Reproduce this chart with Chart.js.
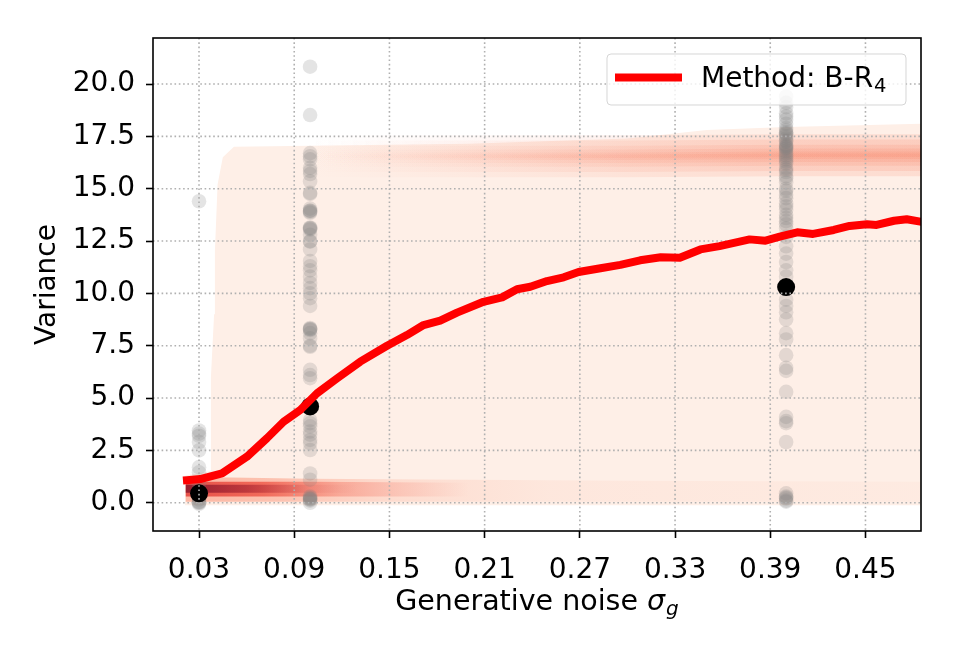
<!DOCTYPE html>
<html>
<head>
<meta charset="utf-8">
<script src="https://cdn.jsdelivr.net/npm/chart.js@4/dist/chart.umd.min.js"></script>
<style>
  html, body { margin: 0; padding: 0; background: #fff; }
  #wrap { width: 960px; height: 660px; }
</style>
</head>
<body>
<div id="wrap"><canvas id="c" width="960" height="660" style="width:960px;height:660px"></canvas></div>
<script>
// ---------------- data ----------------
const xTicks = [0.03, 0.09, 0.15, 0.21, 0.27, 0.33, 0.39, 0.45];
const yTicks = [0, 2.5, 5, 7.5, 10, 12.5, 15, 17.5, 20];

// regression curve (Method: B-R4)
const curveX = [0.0224, 0.0308, 0.0445, 0.0602, 0.0728, 0.0833, 0.0938, 0.1044, 0.117, 0.1316,
                0.1485, 0.161, 0.1715, 0.182, 0.1926, 0.2093, 0.221, 0.2304, 0.2388, 0.2493,
                0.2598, 0.2692, 0.283, 0.2955, 0.308, 0.321, 0.333, 0.346, 0.358, 0.377,
                0.387, 0.396, 0.407, 0.417, 0.430, 0.440, 0.451, 0.457, 0.468, 0.476, 0.4845];
const curveY = [1.08, 1.13, 1.40, 2.20, 3.08, 3.87, 4.43, 5.23, 5.94, 6.74,
                7.50, 8.01, 8.49, 8.70, 9.08, 9.60, 9.81, 10.20, 10.32, 10.59,
                10.77, 11.02, 11.20, 11.36, 11.58, 11.73, 11.70, 12.10, 12.26, 12.58,
                12.52, 12.71, 12.92, 12.84, 13.03, 13.22, 13.30, 13.27, 13.47, 13.54, 13.43];

// observed samples at three noise levels
const sampleSigmas = [0.03, 0.1, 0.4];
const samples003 = [14.4, 3.45, 3.3, 3.2, 2.9, 2.5, 1.7, 1.45, 0.9, 0.6, 0.3, 0.15, 0.05, 0.0, -0.05, 0.02];
const samples010 = [20.83, 18.52, 16.7, 16.55, 16.4, 16.0, 15.85, 15.7, 15.35, 14.8, 14.75, 14.05, 13.95, 13.9,
                    13.85, 13.95, 13.15, 13.1, 13.05, 13.12, 12.8, 12.47, 12.5, 12.1, 11.55, 11.3, 11.1, 10.8,
                    10.5, 10.25, 10.0, 9.77, 9.4, 8.35, 8.3, 8.25, 8.3, 8.1, 7.85, 7.45, 7.5, 6.35, 6.1, 5.95,
                    3.95, 3.8, 3.65, 3.4, 3.25, 3.0, 2.85, 2.52, 1.4, 1.1, 0.3, 0.25, 0.2, 0.15, 0.1, 0.0, 0.18];
const samples040 = [19.4, 19.1, 18.9, 18.6, 18.45, 18.3, 18.1, 17.9, 17.8, 17.7, 17.65, 17.6, 17.5, 17.4, 17.3,
                    17.25, 17.1, 17.05, 17.0, 16.95, 16.9, 16.8, 16.7, 16.6, 16.5, 16.4, 16.3, 16.2, 16.0,
                    15.9, 15.8, 15.6, 15.5, 15.3, 15.0, 14.9, 14.7, 14.55, 14.3, 14.15, 14.0, 13.75, 13.6,
                    13.45, 13.3, 13.1, 12.7, 12.25, 11.9, 11.5, 11.1, 10.8, 9.7, 9.4, 9.1, 8.75, 8.1, 7.8,
                    7.05, 6.45, 6.3, 5.3, 4.1, 3.9, 3.8, 2.9, 0.45, 0.3, 0.25, 0.2, 0.1, 0.05];
const meanX = [0.03, 0.1, 0.4];
const meanY = [0.45, 4.6, 10.3];

// density contour outlines
const envX   = [0.021, 0.0215, 0.037, 0.0375, 0.0395, 0.040, 0.0417, 0.045, 0.052, 0.10, 0.20, 0.30, 0.35, 0.40, 0.485];
const envTop = [-0.1, 1.3, 1.5, 6.0, 9.0, 12.0, 15.2, 16.5, 17.0, 17.05, 17.15, 17.4, 17.8, 17.95, 18.1];
const envBase = -0.12;

const upX      = [0.10, 0.20, 0.30, 0.40, 0.485];
const upCenter = [16.55, 16.55, 16.55, 16.6, 16.6];
const upHalfWidths = [1.0, 0.75, 0.5, 0.32, 0.18, 0.08];

const lowX    = [0.0215, 0.05, 0.1, 0.2, 0.3, 0.485];
const low1Lo  = [0.05, 0.05, 0.05, 0.05, 0.05, 0.05];
const low1Hi  = [1.2, 1.2, 1.15, 1.1, 1.05, 1.0];
const low2Lo  = [0.3, 0.3, 0.3, 0.3, 0.3, 0.3];
const low2Hi  = [1.0, 1.0, 1.0, 0.95, 0.95, 0.95];
const low3Lo  = [0.48, 0.48, 0.48, 0.48, 0.48, 0.48];
const low3Hi  = [0.86, 0.86, 0.86, 0.86, 0.86, 0.86];

const legendMain = 'Method: B-R';
const legendSub = '4';

// ---------------- helpers ----------------
const pts = (xs, ys) => xs.map((x, i) => ({x, y: ys[i]}));
function hGrad(stops) {
  return (c) => {
    const chart = c.chart;
    const xs = chart.scales.x;
    if (!chart.chartArea || !xs) return 'rgba(0,0,0,0)';
    const x0 = xs.getPixelForValue(stops[0][0]);
    const x1 = xs.getPixelForValue(stops[stops.length - 1][0]);
    const g = chart.ctx.createLinearGradient(x0, 0, x1, 0);
    stops.forEach(([v, col]) => {
      const t = Math.min(1, Math.max(0, (xs.getPixelForValue(v) - x0) / (x1 - x0)));
      g.addColorStop(t, col);
    });
    return g;
  };
}

const datasets = [];
function addBand(xs, lo, hi, color, order) {
  const loIdx = datasets.length;
  datasets.push({ data: pts(xs, lo), showLine: true, borderWidth: 0, pointRadius: 0, fill: false, order, backgroundColor: 'rgba(0,0,0,0)' });
  datasets.push({ data: pts(xs, hi), showLine: true, borderWidth: 0, pointRadius: 0, fill: loIdx, order, backgroundColor: color });
}

// red curve
datasets.push({ label: legendMain + legendSub, data: pts(curveX, curveY), showLine: true,
  borderColor: '#ff0000', borderWidth: 8, pointRadius: 0, fill: false, tension: 0,
  borderCapStyle: 'square', borderJoinStyle: 'round', order: 0 });
// means
datasets.push({ data: pts(meanX, meanY), showLine: false, pointRadius: 9, pointBackgroundColor: '#000',
  pointBorderWidth: 0, order: 1, gridAfter: true });
// gray samples
const grayData = [
  ...samples003.map(y => ({x: sampleSigmas[0], y})),
  ...samples010.map(y => ({x: sampleSigmas[1], y})),
  ...samples040.map(y => ({x: sampleSigmas[2], y}))
];
datasets.push({ data: grayData, showLine: false, pointRadius: 7.3, pointBackgroundColor: 'rgba(128,128,128,0.21)',
  pointBorderWidth: 0, order: 2 });

// contour layers (drawn under the points)
addBand(lowX, low3Lo, low3Hi, hGrad([[0.0215,'rgba(125,15,40,0.75)'],[0.06,'rgba(150,20,40,0.55)'],[0.1,'rgba(180,30,40,0.1)'],[0.13,'rgba(180,30,40,0)'],[0.485,'rgba(180,30,40,0)']]), 3);
addBand(lowX, low2Lo, low2Hi, hGrad([[0.0215,'rgba(225,55,50,0.8)'],[0.07,'rgba(235,60,45,0.65)'],[0.12,'rgba(240,80,60,0.3)'],[0.2,'rgba(240,80,60,0)'],[0.485,'rgba(240,80,60,0)']]), 4);
addBand(lowX, low1Lo, low1Hi, hGrad([[0.0215,'rgba(250,140,110,0.55)'],[0.08,'rgba(250,140,110,0.45)'],[0.15,'rgba(250,150,120,0.22)'],[0.25,'rgba(250,160,130,0.1)'],[0.485,'rgba(250,160,130,0.06)']]), 5);
const upGrad = hGrad([[0.10,'rgba(247,125,95,0)'],[0.2,'rgba(247,125,95,0.05)'],[0.3,'rgba(247,125,95,0.11)'],[0.4,'rgba(247,125,95,0.15)'],[0.485,'rgba(247,125,95,0.16)']]);
upHalfWidths.forEach((hw, k) => {
  addBand(upX, upCenter.map(c => c - hw), upCenter.map(c => c + hw), upGrad, 6 + k);
});
// envelope
datasets.push({ data: pts(envX, envTop), showLine: true, borderWidth: 0, pointRadius: 0,
  fill: {value: envBase}, backgroundColor: 'rgb(254,239,231)', order: 20 });

// ---------------- decorations ----------------
const FONT = '"DejaVu Sans", sans-serif';
function drawGrid(chart) {
  const {ctx, chartArea: a, scales: {x, y}} = chart;
  ctx.save();
  ctx.beginPath(); ctx.rect(a.left, a.top, a.right - a.left, a.bottom - a.top); ctx.clip();
  ctx.strokeStyle = '#b0b0b0'; ctx.lineWidth = 1.6; ctx.setLineDash([1.6, 2.7]);
  xTicks.forEach(v => { const p = x.getPixelForValue(v); ctx.beginPath(); ctx.moveTo(p, a.top); ctx.lineTo(p, a.bottom); ctx.stroke(); });
  yTicks.forEach(v => { const p = y.getPixelForValue(v); ctx.beginPath(); ctx.moveTo(a.left, p); ctx.lineTo(a.right, p); ctx.stroke(); });
  ctx.restore();
}
const decor = {
  id: 'decor',
  afterDatasetDraw(chart, args) {
    if (chart.data.datasets[args.index].gridAfter) drawGrid(chart);
  },
  afterDraw(chart) {
    const {ctx, chartArea: a} = chart;
    ctx.save();
    // frame
    ctx.strokeStyle = '#000'; ctx.lineWidth = 1.6; ctx.setLineDash([]);
    ctx.strokeRect(a.left, a.top, a.right - a.left, a.bottom - a.top);
    // legend
    const bw = 299, bh = 51;
    const bx = a.right - 15 - bw, by = a.top + 16;
    ctx.beginPath();
    ctx.roundRect(bx, by, bw, bh, 4);
    ctx.fillStyle = 'rgba(255,255,255,0.8)'; ctx.fill();
    ctx.strokeStyle = 'rgba(204,204,204,0.8)'; ctx.lineWidth = 1; ctx.stroke();
    ctx.beginPath(); ctx.moveTo(bx + 12, by + 23.5); ctx.lineTo(bx + 71, by + 23.5);
    ctx.strokeStyle = '#ff0000'; ctx.lineWidth = 8; ctx.lineCap = 'square'; ctx.stroke();
    ctx.fillStyle = '#000'; ctx.textBaseline = 'alphabetic'; ctx.textAlign = 'left';
    ctx.font = '28px ' + FONT;
    ctx.fillText(legendMain, bx + 94, by + 33);
    const w1 = ctx.measureText(legendMain).width;
    ctx.font = '19.6px ' + FONT;
    ctx.fillText(legendSub, bx + 94 + w1 + 1, by + 38);
    // y title
    ctx.save();
    ctx.translate(55, (a.top + a.bottom) / 2);
    ctx.rotate(-Math.PI / 2);
    ctx.font = '28px ' + FONT; ctx.textAlign = 'center'; ctx.textBaseline = 'alphabetic';
    ctx.fillText('Variance', 0, 0);
    ctx.restore();
    // x title with math
    const t1 = 'Generative noise ', t2 = 'σ', t3 = 'g';
    ctx.font = '28.5px ' + FONT; const w_1 = ctx.measureText(t1).width;
    ctx.font = 'italic 28.5px ' + FONT; const w_2 = ctx.measureText(t2).width;
    ctx.font = 'italic 20px ' + FONT; const w_3 = ctx.measureText(t3).width;
    const total = w_1 + w_2 + w_3 + 1;
    let tx = (a.left + a.right) / 2 - total / 2;
    const base = 610;
    ctx.textAlign = 'left';
    ctx.font = '28.5px ' + FONT; ctx.fillText(t1, tx, base); tx += w_1;
    ctx.font = 'italic 28.5px ' + FONT; ctx.fillText(t2, tx, base); tx += w_2 + 1;
    ctx.font = 'italic 20px ' + FONT; ctx.fillText(t3, tx, base + 5);
    ctx.restore();
  }
};

new Chart(document.getElementById('c'), {
  type: 'line',
  data: { datasets },
  options: {
    responsive: false, animation: false, devicePixelRatio: 1,
    layout: { padding: { left: 0, top: 38, right: 39, bottom: 0 } },
    plugins: { legend: { display: false }, tooltip: { enabled: false } },
    elements: { line: { tension: 0 } },
    scales: {
      x: {
        type: 'linear', min: 0.001, max: 0.485,
        afterBuildTicks: s => { s.ticks = xTicks.map(v => ({value: v})); },
        afterFit: s => { s.height = 129; },
        grid: { drawOnChartArea: false, drawTicks: true, tickLength: 7, tickColor: '#000', tickWidth: 1.6 },
        border: { display: false },
        ticks: { callback: v => Number(v).toFixed(2), font: { family: 'DejaVu Sans', size: 28 }, color: '#000',
                 padding: 16, maxRotation: 0, autoSkip: false }
      },
      y: {
        type: 'linear', min: -1.35, max: 22.2,
        afterBuildTicks: s => { s.ticks = yTicks.map(v => ({value: v})); },
        afterFit: s => { s.width = 153; },
        grid: { drawOnChartArea: false, drawTicks: true, tickLength: 7, tickColor: '#000', tickWidth: 1.6 },
        border: { display: false },
        ticks: { callback: v => Number(v).toFixed(1), font: { family: 'DejaVu Sans', size: 28 }, color: '#000',
                 padding: 11, autoSkip: false }
      }
    }
  },
  plugins: [decor]
});
</script>
</body>
</html>
